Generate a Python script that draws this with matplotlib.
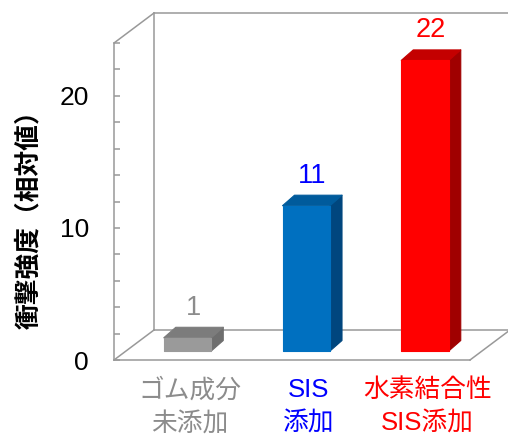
import matplotlib
matplotlib.use('Agg')
import matplotlib.pyplot as plt
from matplotlib.patches import Polygon

plt.rcParams['font.family'] = ['Liberation Sans', 'Noto Sans CJK JP']

# データ
categories = ['ゴム成分\n未添加', 'SIS\n添加', '水素結合性\nSIS添加']
values = [1, 11, 22]
value_labels = ['1', '11', '22']
front_colors = ['#9a9a9a', '#0070c0', '#ff0000']
side_colors = ['#6e6e6e', '#00467e', '#a00000']
top_colors = ['#7c7c7c', '#005b9c', '#c40000']
text_colors = ['#8c8c8c', '#0000ff', '#ff0000']

W, H, DPI = 508, 437, 100
fig = plt.figure(figsize=(W / DPI, H / DPI), dpi=DPI)

# 前面の座標軸 (ピクセル位置)
x0_px, x1_px, y0_px, y1_px = 114, 470, 360, 43
ax = fig.add_axes([x0_px / W, 1 - y0_px / H, (x1_px - x0_px) / W, (y0_px - y1_px) / H])
xmin, xmax, ymin, ymax = -0.518, 2.48, 0, 24
ax.set_xlim(xmin, xmax)
ax.set_ylim(ymin, ymax)

kx = (xmax - xmin) / (x1_px - x0_px)   # data / px
ky = (ymax - ymin) / (y0_px - y1_px)

grid_c = '#999999'
lw = 1.1

# 奥の壁
bdx, bdy = 40 * kx, 30 * ky
ax.plot([xmin + bdx] * 2, [ymin + bdy, ymax + bdy], color=grid_c, lw=lw, clip_on=False)
ax.plot([xmin + bdx, xmax + 2], [ymax + bdy] * 2, color=grid_c, lw=lw, clip_on=False)
ax.plot([xmin + bdx, xmax + bdx], [ymin + bdy] * 2, color=grid_c, lw=lw, clip_on=False)
for (x, y) in [(xmin, ymin), (xmin, ymax), (xmax, ymin)]:
    ax.plot([x, x + bdx], [y, y + bdy], color=grid_c, lw=lw, clip_on=False)

for s in ['top', 'right']:
    ax.spines[s].set_visible(False)
for s in ['left', 'bottom']:
    ax.spines[s].set_color(grid_c)
    ax.spines[s].set_linewidth(lw)

ax.set_yticks(range(0, 25, 2))
ax.set_yticklabels([str(t) if t % 10 == 0 else '' for t in range(0, 25, 2)])
ax.tick_params(axis='y', direction='in', length=4.3, width=lw, color=grid_c,
               labelsize=19, pad=18)
ax.set_xticks([])

# 棒 (奥行き方向に少しずらす)
ox, oy = 12 * kx, 9 * ky
sx, sy = 12 * kx, 10.5 * ky
bw = 0.4
xs = [i + ox for i in range(len(values))]
ax.bar(xs, values, width=bw, bottom=oy, color=front_colors, zorder=3,
       clip_on=False, edgecolor=front_colors, lw=0.8, joinstyle='round')
for i, v in enumerate(values):
    xl, xr = xs[i] - bw / 2, xs[i] + bw / 2
    yt = v + oy
    side = Polygon([(xr, oy), (xr, yt), (xr + sx, yt + sy), (xr + sx, oy + sy)],
                   closed=True, fc=side_colors[i], ec=side_colors[i], lw=0.8,
                   joinstyle='round', zorder=2, clip_on=False)
    top = Polygon([(xl, yt), (xr, yt), (xr + sx, yt + sy), (xl + sx, yt + sy)],
                  closed=True, fc=top_colors[i], ec=top_colors[i], lw=0.8,
                  joinstyle='round', zorder=2, clip_on=False)
    ax.add_patch(side)
    ax.add_patch(top)
    ax.annotate(value_labels[i], (xs[i] + sx / 2, yt + sy), xytext=(0, 14),
                textcoords='offset points', ha='center', va='center',
                fontsize=19.5, color=text_colors[i])
    ax.text(xs[i] + 0.02, -0.058, categories[i], transform=ax.get_xaxis_transform(),
            ha='center', va='top', fontsize=18.5, color=text_colors[i],
            linespacing=1.5)

fig.text(29 / W, 1 - 213 / H, '衝撃強度（相対値）', rotation=90, ha='center',
         va='center', fontsize=18.5, fontweight='bold',
         family=['Noto Sans CJK JP'])

fig.savefig('out.png', dpi=DPI)
